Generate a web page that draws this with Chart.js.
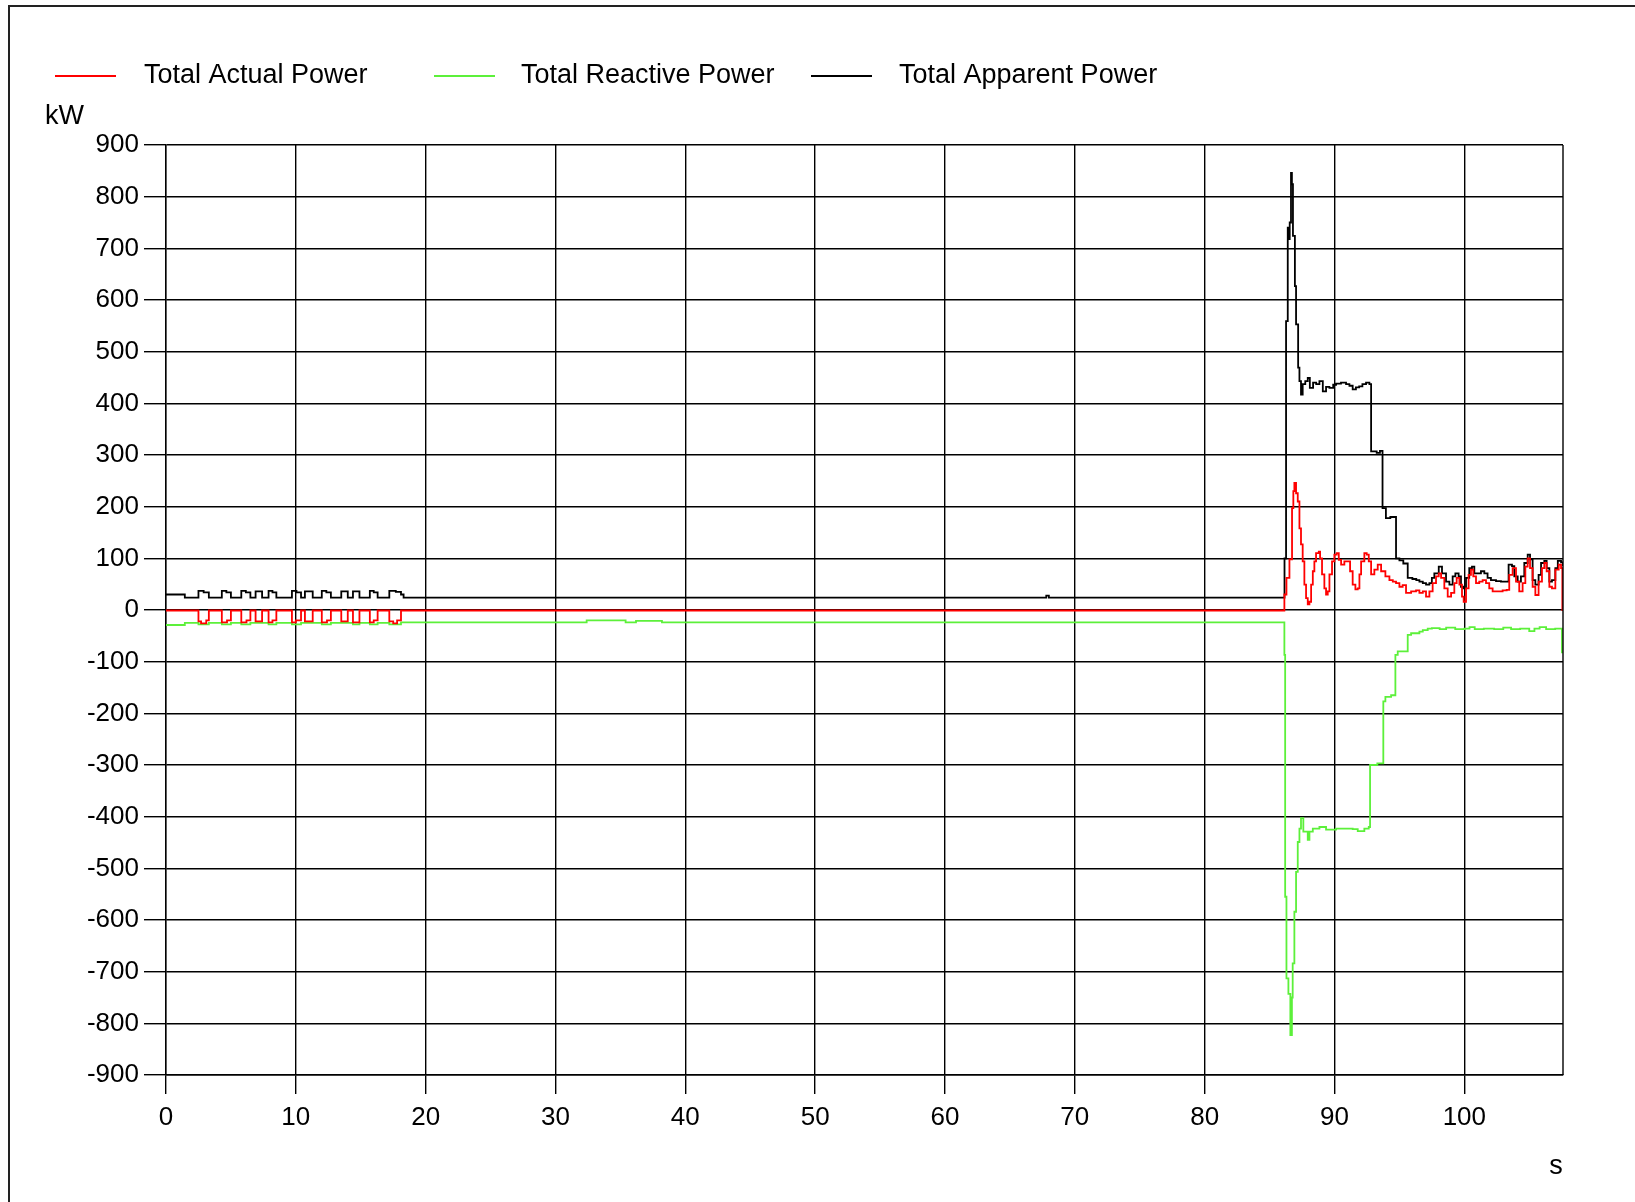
<!DOCTYPE html>
<html>
<head>
<meta charset="utf-8">
<script src="https://cdn.jsdelivr.net/npm/chart.js@4.4.1/dist/chart.umd.min.js"></script>
<style>
  body { margin: 0; background: #fff; }
  #wrap { width: 1635px; height: 1202px; }
</style>
</head>
<body>
<div id="wrap"><canvas id="myChart" width="1635" height="1202"></canvas></div>
<script>
/*------------------------------------------------------------------------------------------------*/
//datos (s, kW)
const seriesNames = ['Total Actual Power', 'Total Reactive Power', 'Total Apparent Power'];
const seriesColors = ['#ff0000', '#5cf03a', '#000000'];

const actualTime = [0, 2.5, 2.7, 3.1, 3.3, 4.3, 4.7, 5.0, 5.8, 6.2, 6.5, 6.9, 7.4, 7.9, 8.2, 8.5,
    9.7, 10.0, 10.4, 10.7, 11.3, 12.0, 12.4, 12.7, 13.5, 14.0, 14.4, 14.9, 15.7, 16.0, 16.3,
    17.2, 17.5, 17.8, 18.1,
    86.14, 86.3, 86.53, 86.73, 86.83, 86.91, 87.04, 87.17, 87.3, 87.42, 87.55, 87.68, 87.81, 87.94,
    88.07, 88.2, 88.33, 88.45, 88.58, 88.79, 88.89, 89.04, 89.22, 89.35, 89.48, 89.61, 89.81, 89.99,
    90.17, 90.33, 90.51, 90.76, 91.02, 91.2, 91.4, 91.61, 91.79, 91.92, 92.05, 92.3, 92.48, 92.64,
    92.82, 93.07, 93.33, 93.59, 93.92, 94.23, 94.49, 94.74, 95.0, 95.25, 95.51, 95.9, 96.28, 96.54,
    96.8, 97.05, 97.31, 97.56, 97.82, 98.03, 98.21, 98.46, 98.72, 98.98, 99.23, 99.41, 99.62, 99.82,
    99.95, 100.13, 100.33, 100.51, 100.69, 100.9, 101.15, 101.41, 101.67, 101.92, 102.18, 102.56,
    102.95, 103.26, 103.46, 103.72, 103.98, 104.23, 104.49, 104.7, 104.88, 105.06, 105.26, 105.47,
    105.72, 105.98, 106.16, 106.34, 106.55, 106.75, 107.01, 107.27, 107.45, 107.55, 107.6];
const actualPower = [-1, -22, -26, -20, -1, -24, -20, -1, -24, -20, -1, -22, -1, -24, -20, -1,
    -24, -20, -1, -22, -1, -24, -20, -1, -22, -1, -24, -1, -24, -20, -1,
    -22, -26, -20, -1,
    30, 62, 98, 197, 230, 246, 226, 210, 158, 127, 94, 49, 23, 11,
    16, 49, 75, 94, 110, 113, 100, 69, 42, 30, 36, 69, 94, 107,
    110, 97, 88, 94, 94, 75, 49, 40, 42, 69, 94, 110, 107, 94,
    69, 78, 88, 75, 65, 58, 55, 52, 45, 48, 33, 36, 38, 33,
    36, 26, 36, 52, 65, 71, 62, 42, 26, 33, 52, 62, 49, 26,
    16, 42, 68, 78, 65, 52, 55, 58, 52, 42, 36, 36,
    38, 39, 68, 81, 55, 36, 52, 84, 100, 81, 45, 29,
    55, 81, 91, 75, 45, 42, 78, 88, 81, 0, 0];

const reactiveTime = [0, 1.45, 2.5, 3.3, 4.3, 5.0, 5.8, 6.5, 7.9, 8.5, 9.7, 10.4, 12.0, 12.7,
    14.4, 14.9, 15.7, 16.3, 17.2, 18.1, 32.4, 35.4, 36.2, 38.2,
    86.14, 86.2, 86.3, 86.45, 86.6, 86.72, 86.78, 86.91, 87.04, 87.17, 87.3, 87.42, 87.6, 87.81,
    87.94, 88.07, 88.33, 88.84, 89.35, 90.12, 90.89, 91.4, 91.79, 92.3, 92.64, 92.74, 93.3,
    93.76, 93.92, 94.36, 94.69, 94.87, 95.64, 95.9, 96.54, 96.8, 97.18, 97.5, 98.1, 98.6, 99.3,
    100.0, 100.4, 100.8, 101.5, 102.3, 103.0, 103.6, 104.3, 105.0, 105.4, 105.8, 106.3, 107.0,
    107.52, 107.6];
const reactivePower = [-29, -25, -28, -25, -28, -25, -28, -25, -28, -25, -28, -25, -28, -25,
    -28, -25, -28, -25, -28, -24, -20, -24, -21, -24,
    -87, -555, -713, -743, -823, -750, -684, -584, -507, -449, -423, -403, -429, -429,
    -445, -429, -423, -420, -425, -423, -423, -424, -428, -423, -420, -300, -297,
    -177, -168, -165, -87, -80, -48, -45, -42, -39, -36, -35, -37, -34, -37,
    -36, -33, -37, -36, -37, -34, -37, -36, -41, -36, -33, -37, -36,
    -82, -82];

const apparentTime = [0, 1.45, 2.5, 2.9, 3.3, 4.3, 4.65, 5.0, 5.8, 6.15, 6.5, 6.9, 7.4, 7.9, 8.2, 8.5,
    9.7, 10.05, 10.4, 10.7, 11.3, 12.0, 12.35, 12.7, 13.5, 14.0, 14.4, 14.9, 15.7, 16.0, 16.3,
    17.2, 17.7, 18.1, 18.3, 67.8, 68.0,
    86.15, 86.27, 86.4, 86.5, 86.55, 86.65, 86.72, 86.8, 86.95, 87.04, 87.2, 87.3, 87.42, 87.55,
    87.75, 87.94, 88.1, 88.35, 88.59, 88.84, 89.1, 89.35, 89.61, 89.9, 90.12, 90.5, 90.89, 91.15,
    91.4, 91.65, 91.9, 92.15, 92.43, 92.69, 92.82, 93.25, 93.5, 93.7, 93.96, 94.3, 94.74, 95.0,
    95.3, 95.64, 96.0, 96.3, 96.54, 96.8, 97.05, 97.31, 97.5, 97.69, 98.03, 98.28, 98.59, 98.85,
    99.1, 99.31, 99.56, 99.74, 99.92, 100.13, 100.38, 100.59, 100.77, 101.02, 101.28, 101.54,
    101.79, 102.05, 102.44, 102.82, 103.21, 103.41, 103.67, 103.85, 104.11, 104.36, 104.62,
    104.88, 105.06, 105.26, 105.47, 105.72, 105.91, 106.16, 106.34, 106.55, 106.75, 107.01,
    107.2, 107.45, 107.6];
const apparentPower = [30, 24, 37, 34, 24, 37, 34, 24, 37, 34, 24, 36, 24, 37, 34, 24,
    37, 34, 24, 36, 24, 37, 34, 24, 36, 24, 36, 24, 37, 34, 24,
    37, 35, 30, 24, 28, 24,
    100, 559, 740, 718, 750, 846, 824, 724, 627, 553, 469, 443, 417, 437,
    443, 449, 430, 440, 437, 443, 423, 432, 430, 436, 438, 440, 437, 434,
    427, 431, 433, 437, 440, 437, 307, 304, 308, 197, 178, 180, 100, 96,
    90, 62, 60, 58, 55, 52, 49, 52, 62, 71, 84, 71, 55, 49,
    65, 71, 65, 45, 42, 62, 81, 84, 71, 71, 75, 71,
    62, 58, 56, 55, 55, 88, 85, 65, 55, 65, 91,
    107, 98, 58, 49, 68, 91, 95, 81, 55, 58, 81,
    95, 92, 85];

// ejes
const yMin = -900, yMax = 900, yStep = 100;
const xMin = 0, xMax = 107.6, xStep = 10;

/*------------------------------------------------------------------------------------------------*/
//armar datasets
const toPoints = (times, values) => times.map((t, i) => ({ x: t, y: values[i] }));
const seriesData = [
    toPoints(actualTime, actualPower),
    toPoints(reactiveTime, reactivePower),
    toPoints(apparentTime, apparentPower)
];

const FONT = "'Liberation Sans', Arial, sans-serif";
Chart.defaults.font.family = FONT;
Chart.defaults.font.size = 26;
Chart.defaults.color = '#000';

/*------------------------------------------------------------------------------------------------*/
//extras: leyenda, unidades, marco
const extras = {
    id: 'extras',
    afterDraw(chart) {
        const ctx = chart.ctx;
        const area = chart.chartArea;
        ctx.save();

        // marco de la hoja
        ctx.strokeStyle = '#222';
        ctx.lineWidth = 2;
        ctx.beginPath();
        ctx.moveTo(9, 1202);
        ctx.lineTo(9, 6);
        ctx.lineTo(1635, 6);
        ctx.stroke();

        // borde derecho del area
        ctx.lineWidth = 1.4;
        ctx.strokeStyle = '#000';
        ctx.beginPath();
        ctx.moveTo(area.right, area.top);
        ctx.lineTo(area.right, area.bottom);
        ctx.stroke();

        // leyenda
        const lineStarts = [55, 434, 811];
        const textStarts = [144, 521, 899];
        const ly = 76;
        ctx.font = '27px ' + FONT;
        ctx.textBaseline = 'middle';
        ctx.textAlign = 'left';
        chart.data.datasets.forEach((ds, i) => {
            ctx.strokeStyle = ds.borderColor;
            ctx.lineWidth = 2;
            ctx.beginPath();
            ctx.moveTo(lineStarts[i], ly);
            ctx.lineTo(lineStarts[i] + 61, ly);
            ctx.stroke();
            ctx.fillStyle = '#000';
            ctx.fillText(ds.label, textStarts[i], ly);
        });

        // unidades
        ctx.fillText('kW', 45, 117);
        ctx.textAlign = 'center';
        ctx.fillText('s', 1556, 1167);
        ctx.restore();
    }
};

/*------------------------------------------------------------------------------------------------*/
//grafico
const ctx = document.getElementById('myChart');
const myChart = new Chart(ctx, {
    type: 'line',
    data: {
        datasets: seriesData.map((pts, i) => ({
            label: seriesNames[i],
            data: pts,
            borderColor: seriesColors[i],
            backgroundColor: seriesColors[i],
            borderWidth: 1.8,
            pointRadius: 0,
            stepped: true,
            fill: false
        }))
    },
    options: {
        responsive: false,
        animation: false,
        devicePixelRatio: 1,
        layout: { padding: { left: 0, top: 145, right: 72, bottom: 0 } },
        plugins: {
            legend: { display: false },
            tooltip: { enabled: false }
        },
        scales: {
            x: {
                type: 'linear',
                min: xMin,
                max: xMax,
                afterFit: (scale) => { scale.height = 127; },
                ticks: { stepSize: xStep, includeBounds: false, padding: 8, maxRotation: 0, autoSkip: false, color: '#000' },
                grid: { color: '#000', lineWidth: 1.4, tickLength: 19, tickColor: '#000' },
                border: { color: '#000', width: 1.4 }
            },
            y: {
                type: 'linear',
                min: yMin,
                max: yMax,
                afterFit: (scale) => { scale.width = 166; },
                ticks: { stepSize: yStep, padding: 5, color: '#000' },
                grid: { color: '#000', lineWidth: 1.4, tickLength: 22, tickColor: '#000' },
                border: { color: '#000', width: 1.4 }
            }
        }
    },
    plugins: [extras]
});
</script>
</body>
</html>
